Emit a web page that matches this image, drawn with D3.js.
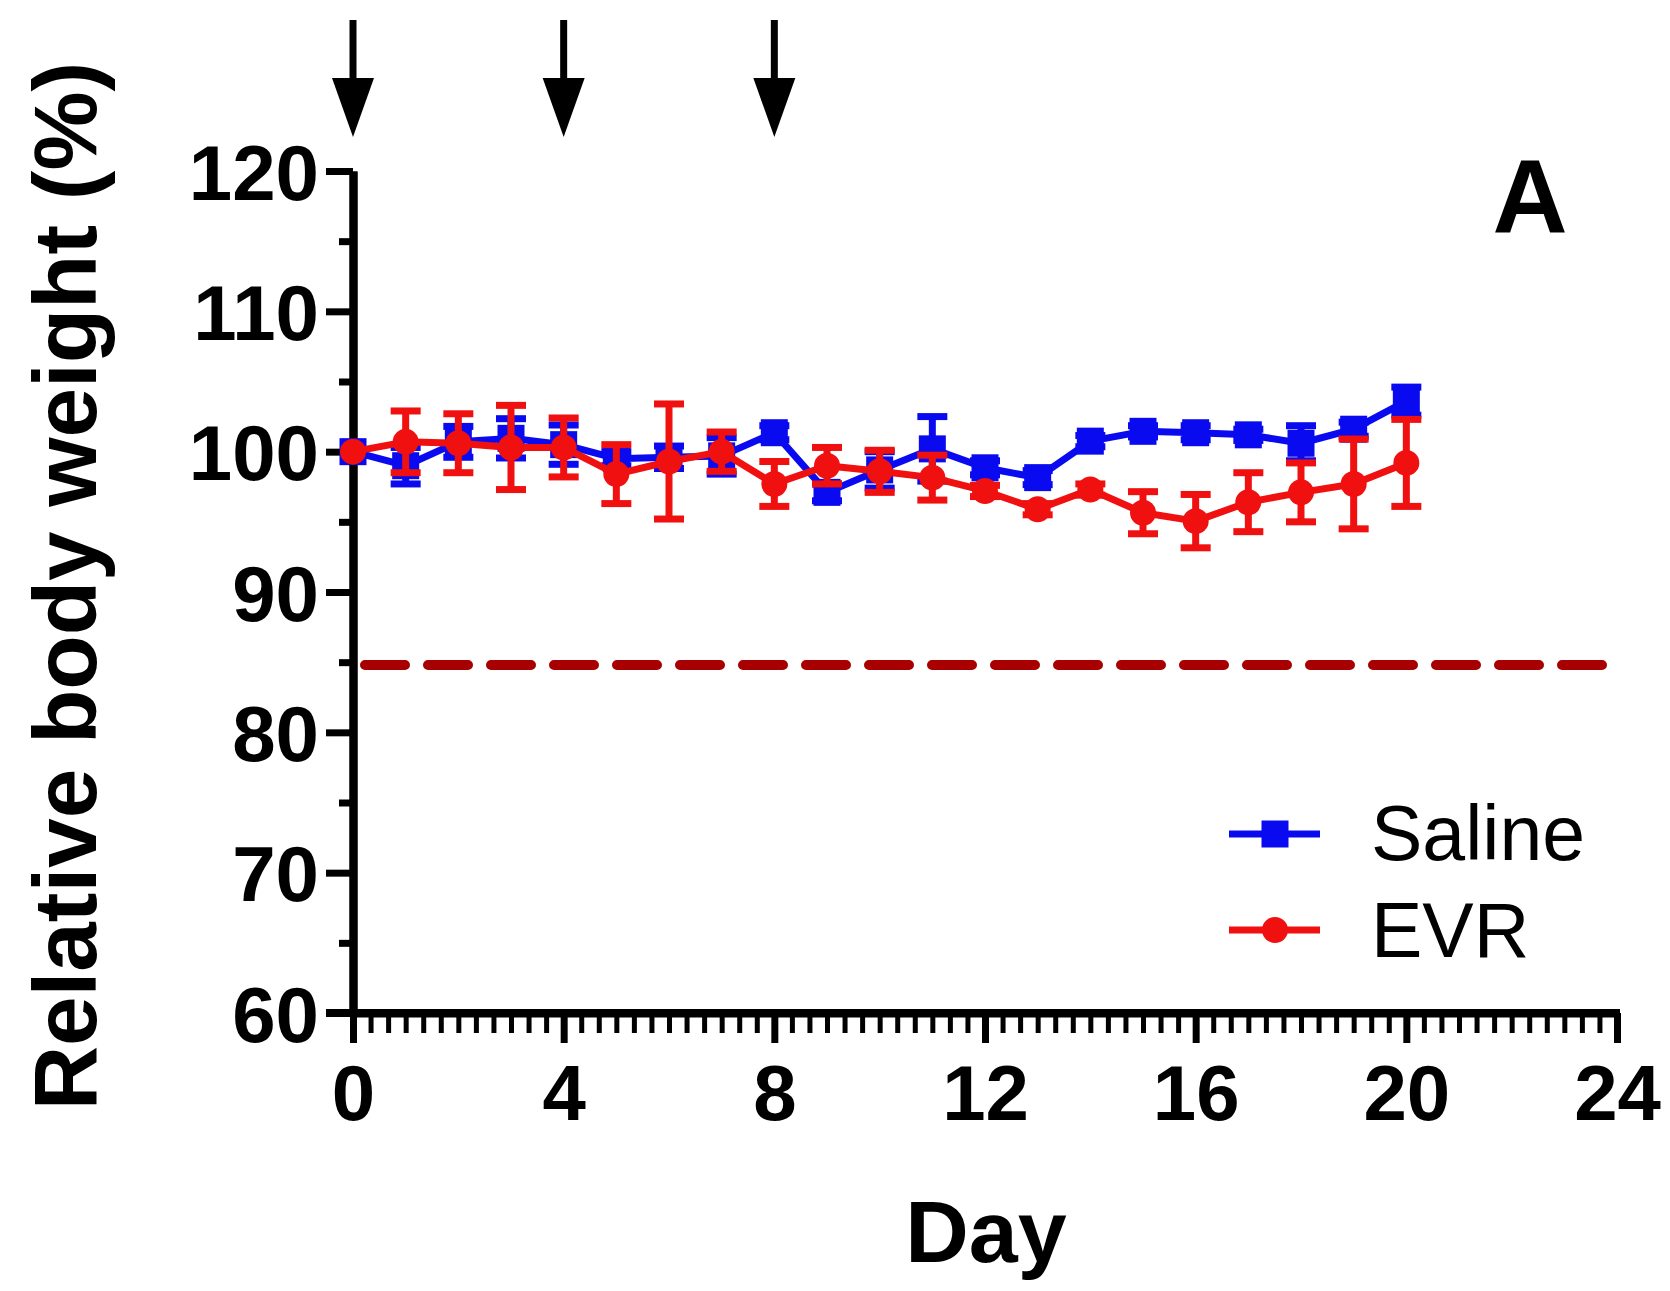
<!DOCTYPE html>
<html>
<head>
<meta charset="utf-8">
<script src="https://cdn.jsdelivr.net/npm/d3@7"></script>
<style>
  body { margin: 0; background: #fff; }
  svg { display: block; }
</style>
</head>
<body>
<div class="chart"></div>
<script>
// data (relative body weight %, mean and SEM)
const days = d3.range(0, 21);
const salineMean = [100, 99.0, 100.7, 100.95, 100.5, 99.5, 99.6, 99.7, 101.35, 97.1, 98.7,
  100.2, 98.85, 98.15, 100.75, 101.45, 101.35, 101.2, 100.6, 101.6, 103.6];
const salineErr = [0, 1.3, 1.1, 1.4, 1.4, 0.5, 0.8, 1.3, 0.5, 0.6, 1.3,
  2.3, 0.5, 0.5, 0.4, 0.4, 0.5, 0.4, 1.25, 0.5, 1.0];
const evrMean = [100, 100.7, 100.6, 100.3, 100.3, 98.4, 99.3, 100, 97.7, 99.0, 98.6,
  98.15, 97.2, 95.9, 97.3, 95.65, 95.05, 96.4, 97.1, 97.7, 99.2];
const evrErr = [0, 2.2, 2.1, 3.0, 2.1, 2.1, 4.1, 1.4, 1.6, 1.3, 1.5,
  1.6, 0.4, 0.4, 0.4, 1.5, 1.9, 2.1, 2.1, 3.2, 3.1];
const doseDays = [0, 4, 8];
const threshold = 84.8;
const xTicks = [0, 4, 8, 12, 16, 20, 24];
const yTicks = [60, 70, 80, 90, 100, 110, 120];
const seriesNames = ["Saline", "EVR"];

const width = 1670;
const height = 1291;
const font = "'Liberation Sans', Arial, sans-serif";
const blue = "#0a0af0";
const red = "#f01010";

const x = d3.scaleLinear().domain([0, 24]).range([353, 1617]);
const y = d3.scaleLinear().domain([60, 120]).range([1013, 171]);

const svg = d3
  .select(".chart")
  .append("svg")
  .attr("width", width)
  .attr("height", height)
  .attr("viewBox", `0 0 ${width} ${height}`);

svg.append("rect").attr("width", width).attr("height", height).attr("fill", "#fff");

// threshold line
svg
  .append("line")
  .attr("x1", x(0) + 12)
  .attr("x2", x(24))
  .attr("y1", y(threshold))
  .attr("y2", y(threshold))
  .attr("stroke", "#a80000")
  .attr("stroke-width", 10)
  .attr("stroke-linecap", "round")
  .attr("stroke-dasharray", "40 23");

// axes
function styleAxis(g) {
  g.select(".domain").attr("stroke", "#000").attr("stroke-width", 8);
  g.selectAll(".tick line").attr("stroke", "#000").attr("stroke-width", 7);
  g.selectAll("text")
    .attr("fill", "#000")
    .style("font-family", font)
    .style("font-weight", "bold")
    .style("font-size", "78px");
}

svg
  .append("g")
  .attr("transform", `translate(${x(0)},0)`)
  .call(d3.axisLeft(y).tickValues(d3.range(65, 120, 10)).tickSize(14).tickSizeOuter(0).tickFormat(""))
  .call(styleAxis);

svg
  .append("g")
  .attr("transform", `translate(${x(0)},0)`)
  .call(d3.axisLeft(y).tickValues(yTicks).tickSize(27).tickPadding(7).tickSizeOuter(0))
  .call(styleAxis)
  .call(g => g.selectAll("text").attr("dy", "0.36em"));

svg
  .append("g")
  .attr("transform", `translate(0,${y(60)})`)
  .call(d3.axisBottom(x).tickValues(d3.range(0, 72).map(i => i / 3)).tickSize(20).tickSizeOuter(0).tickFormat(""))
  .call(styleAxis)
  .call(g => g.selectAll(".tick line").attr("stroke-width", 5));

svg
  .append("g")
  .attr("transform", `translate(0,${y(60)})`)
  .call(d3.axisBottom(x).tickValues(xTicks).tickSize(30).tickPadding(22).tickSizeOuter(0))
  .call(styleAxis)
  .call(g => g.select(".domain").attr("d", `M${x(0) - 27},0H${x(24) + 3}`));

// dose arrows
const arrows = svg.append("g").attr("fill", "#000").attr("stroke", "#000");
doseDays.forEach(function(d) {
  const cx = x(d);
  arrows.append("line")
    .attr("x1", cx).attr("x2", cx)
    .attr("y1", 20).attr("y2", 90)
    .attr("stroke-width", 7);
  arrows.append("path")
    .attr("stroke", "none")
    .attr("d", `M${cx - 21},78 L${cx + 21},78 L${cx},137 Z`);
});

// series
function drawSeries(mean, err, color, shape) {
  const g = svg.append("g");
  const line = d3.line().x((d, i) => x(days[i])).y(d => y(d));
  g.append("path")
    .datum(mean)
    .attr("fill", "none")
    .attr("stroke", color)
    .attr("stroke-width", 7)
    .attr("stroke-linejoin", "round")
    .attr("d", line);

  const bars = g.selectAll(".err")
    .data(days.filter(i => err[i] > 0))
    .enter()
    .append("g")
    .attr("stroke", color)
    .attr("stroke-width", 7);
  bars.append("line")
    .attr("x1", i => x(i)).attr("x2", i => x(i))
    .attr("y1", i => y(mean[i] - err[i]))
    .attr("y2", i => y(mean[i] + err[i]));
  bars.append("line")
    .attr("x1", i => x(i) - 15).attr("x2", i => x(i) + 15)
    .attr("y1", i => y(mean[i] + err[i])).attr("y2", i => y(mean[i] + err[i]));
  bars.append("line")
    .attr("x1", i => x(i) - 15).attr("x2", i => x(i) + 15)
    .attr("y1", i => y(mean[i] - err[i])).attr("y2", i => y(mean[i] - err[i]));

  g.selectAll(".pt")
    .data(mean)
    .enter()
    .append("path")
    .attr("fill", color)
    .attr("transform", (d, i) => `translate(${x(days[i])},${y(d)})`)
    .attr("d", shape);
}

const squareShape = d3.symbol().type(d3.symbolSquare).size(27 * 27)();
const circleShape = d3.symbol().type(d3.symbolCircle).size(Math.PI * 13 * 13)();

drawSeries(salineMean, salineErr, blue, squareShape);
drawSeries(evrMean, evrErr, red, circleShape);

// legend
const legend = svg.append("g");
[[blue, squareShape, 834, 860], [red, circleShape, 930, 957]].forEach(function(row, k) {
  legend.append("line")
    .attr("x1", 1229).attr("x2", 1320)
    .attr("y1", row[2]).attr("y2", row[2])
    .attr("stroke", row[0]).attr("stroke-width", 7);
  legend.append("path")
    .attr("fill", row[0])
    .attr("transform", `translate(1275,${row[2]})`)
    .attr("d", row[1]);
  legend.append("text")
    .attr("x", 1371).attr("y", row[3])
    .style("font-family", font)
    .style("font-size", "77px")
    .text(seriesNames[k]);
});

// axis titles and panel letter
svg.append("text")
  .attr("transform", "translate(96,586) rotate(-90)")
  .attr("text-anchor", "middle")
  .style("font-family", font)
  .style("font-weight", "bold")
  .style("font-size", "89px")
  .text("Relative body weight (%)");

svg.append("text")
  .attr("x", 986).attr("y", 1262)
  .attr("text-anchor", "middle")
  .style("font-family", font)
  .style("font-weight", "bold")
  .style("font-size", "88px")
  .text("Day");

svg.append("text")
  .attr("x", 1530).attr("y", 232)
  .attr("text-anchor", "middle")
  .style("font-family", font)
  .style("font-weight", "bold")
  .style("font-size", "104px")
  .text("A");
</script>
</body>
</html>
